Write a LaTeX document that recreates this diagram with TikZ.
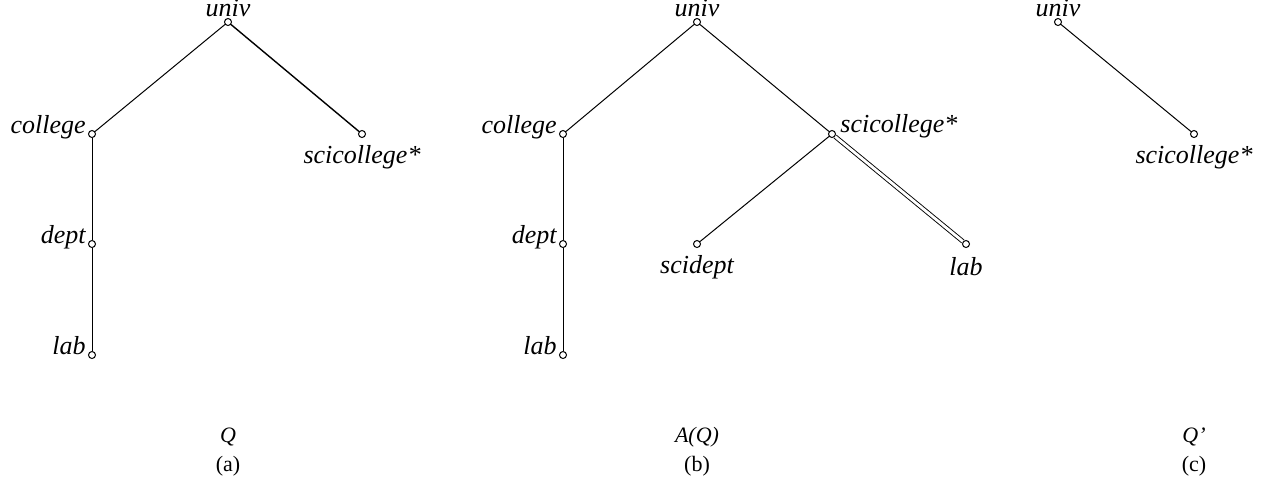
\documentclass[tikz,border=0pt]{standalone}
\usepackage{fontspec}
\setmainfont{Liberation Serif}
\usetikzlibrary{positioning}

\begin{document}
\begin{tikzpicture}[
    x=0.5pt, y=-0.5pt,
    vertex/.style={draw, circle, inner sep=0pt, minimum size=3.5pt, fill=white, line width=0.5pt},
    tag/.style={font=\fontsize{13}{15}\selectfont\itshape, inner sep=0pt},
    lefttag/.style={label={[tag, anchor=base east, xshift=-1pt, yshift=0.5pt]west:#1}},
    righttag/.style={label={[tag, anchor=base west, xshift=2pt, yshift=1pt]east:#1}},
    toptag/.style={label={[tag, anchor=base, yshift=0.7pt]north:#1}},
    bottag/.style={label={[tag, anchor=base, yshift=-11.5pt]center:#1}},
    edge/.style={line width=0.5pt},
    dbledge/.style={line width=0.45pt, double, double distance=1.4pt},
    capt/.style={font=\fontsize{11}{13}\selectfont, inner sep=0pt, anchor=base}
]
    \useasboundingbox (0,0) rectangle (1271,483);

    % (a) the query Q
    \node[vertex, toptag=univ] (univA) at (228,22) {};
    \node[vertex, lefttag=college] (collegeA) at (92,134) {};
    \node[vertex, bottag=scicollege*] (scicolA) at (362,134) {};
    \node[vertex, lefttag=dept] (deptA) at (92,244) {};
    \node[vertex, lefttag=lab] (labA) at (92,355) {};

    \draw[edge] (univA) -- (collegeA);
    \draw[edge, line width=0.7pt] (univA) -- (scicolA);
    \draw[edge] (collegeA) -- (deptA);
    \draw[edge] (deptA) -- (labA);

    \node[capt, font=\fontsize{11}{13}\selectfont\itshape] (qA) at (228,442) {Q};
    \node[capt] (subA) at (228,471) {(a)};

    % (b) the augmented query A(Q)
    \node[vertex, toptag=univ] (univB) at (697,22) {};
    \node[vertex, lefttag=college] (collegeB) at (563,134) {};
    \node[vertex, righttag=scicollege*] (scicolB) at (832,134) {};
    \node[vertex, lefttag=dept] (deptB) at (563,244) {};
    \node[vertex, lefttag=lab] (labB) at (563,355) {};
    \node[vertex, bottag=scidept] (scideptB) at (697,244) {};
    \node[vertex, bottag=lab] (sclabB) at (966,244) {};

    \draw[edge] (univB) -- (collegeB);
    \draw[edge] (univB) -- (scicolB);
    \draw[edge] (collegeB) -- (deptB);
    \draw[edge] (deptB) -- (labB);
    \draw[edge] (scicolB) -- (scideptB);
    \draw[dbledge] (scicolB) -- (sclabB);

    \node[capt, font=\fontsize{11}{13}\selectfont\itshape] (qB) at (697,442) {A(Q)};
    \node[capt] (subB) at (697,471) {(b)};

    % (c) the rewritten query Q'
    \node[vertex, toptag=univ] (univC) at (1058,22) {};
    \node[vertex, bottag=scicollege*] (scicolC) at (1194,134) {};

    \draw[edge] (univC) -- (scicolC);

    \node[capt, font=\fontsize{11}{13}\selectfont\itshape] (qC) at (1194,442) {Q'};
    \node[capt] (subC) at (1194,471) {(c)};
\end{tikzpicture}
\end{document}
